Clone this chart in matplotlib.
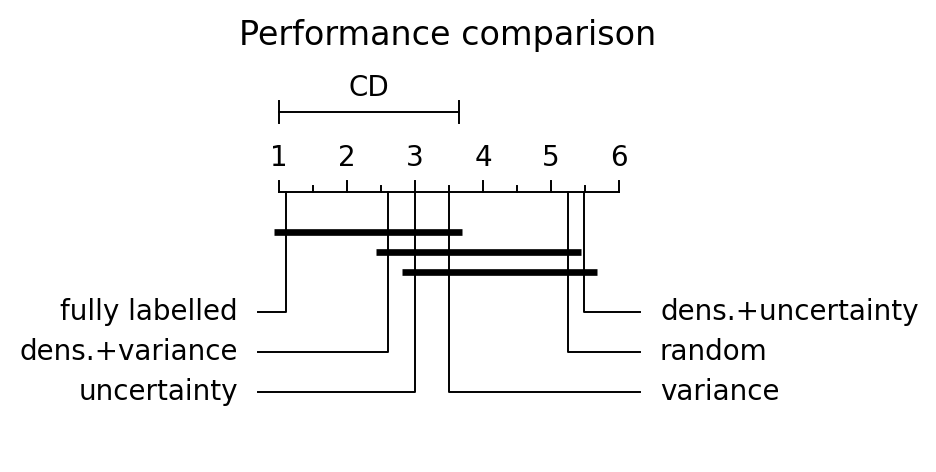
import matplotlib
matplotlib.use("Agg")
import matplotlib.pyplot as plt

# ── Data ──────────────────────────────────────────────────────────────────────
methods = ["fully labelled", "dens.+variance", "uncertainty",
           "variance", "random", "dens.+uncertainty"]
avg_ranks = [1.11, 2.61, 3.0, 3.5, 5.25, 5.49]
cd = 2.65
# groups of methods not significantly different (index pairs: first, last)
cliques = [(0, 3), (1, 4), (2, 5)]
lowest, highest = 1, 6

# ── Layout (pixel based) ──────────────────────────────────────────────────────
W, H = 937, 472
x0_px, unit_px = 279, 68          # pixel of rank 1, pixels per rank


def px(p):
    """pixel x -> rank coordinate"""
    return lowest + (p - x0_px) / unit_px


fig = plt.figure(figsize=(W / 100, H / 100), dpi=100)
ax = fig.add_axes([0, 0, 1, 1])
ax.set_xlim(px(0), px(W))
ax.set_ylim(H, 0)
ax.axis("off")

fs = 20
lw = 1.4

# title
ax.text(px(448), 35, "Performance comparison", ha="center", va="center", fontsize=24)

# CD bar
cd_y = 112
ax.plot([lowest, lowest + cd], [cd_y, cd_y], color="k", lw=lw)
for xe in (lowest, lowest + cd):
    ax.plot([xe, xe], [cd_y - 11, cd_y + 11], color="k", lw=lw)
ax.text(lowest + cd / 2, 88, "CD", ha="center", va="center", fontsize=fs)

# rank axis
axis_y = 192
ax.plot([lowest, highest], [axis_y, axis_y], color="k", lw=lw)
r = lowest
while r <= highest + 1e-9:
    major = abs(r - round(r)) < 1e-9
    ax.plot([r, r], [axis_y - (11 if major else 6), axis_y], color="k", lw=lw)
    if major:
        ax.text(r, 158, str(int(round(r))), ha="center", va="center", fontsize=fs)
    r += 0.5

# method connectors
half = len(methods) // 2
row_y = [312, 352, 392]
for i, (name, rk) in enumerate(zip(methods, avg_ranks)):
    if i < half:
        y = row_y[i]
        ax.plot([rk, rk, px(258)], [axis_y, y, y], color="k", lw=lw)
        ax.text(px(238), y, name, ha="right", va="center", fontsize=fs)
    else:
        y = row_y[len(methods) - 1 - i]
        ax.plot([rk, rk, px(640)], [axis_y, y, y], color="k", lw=lw)
        ax.text(px(660), y, name, ha="left", va="center", fontsize=fs)

# cliques
ext = 0.19
for k, (a, b) in enumerate(cliques):
    y = 232 + 20 * k
    ax.plot([avg_ranks[a] - ext, avg_ranks[b] + ext], [y, y],
            color="k", lw=4.8, solid_capstyle="butt")

fig.savefig("out.png", dpi=100, facecolor="white")
